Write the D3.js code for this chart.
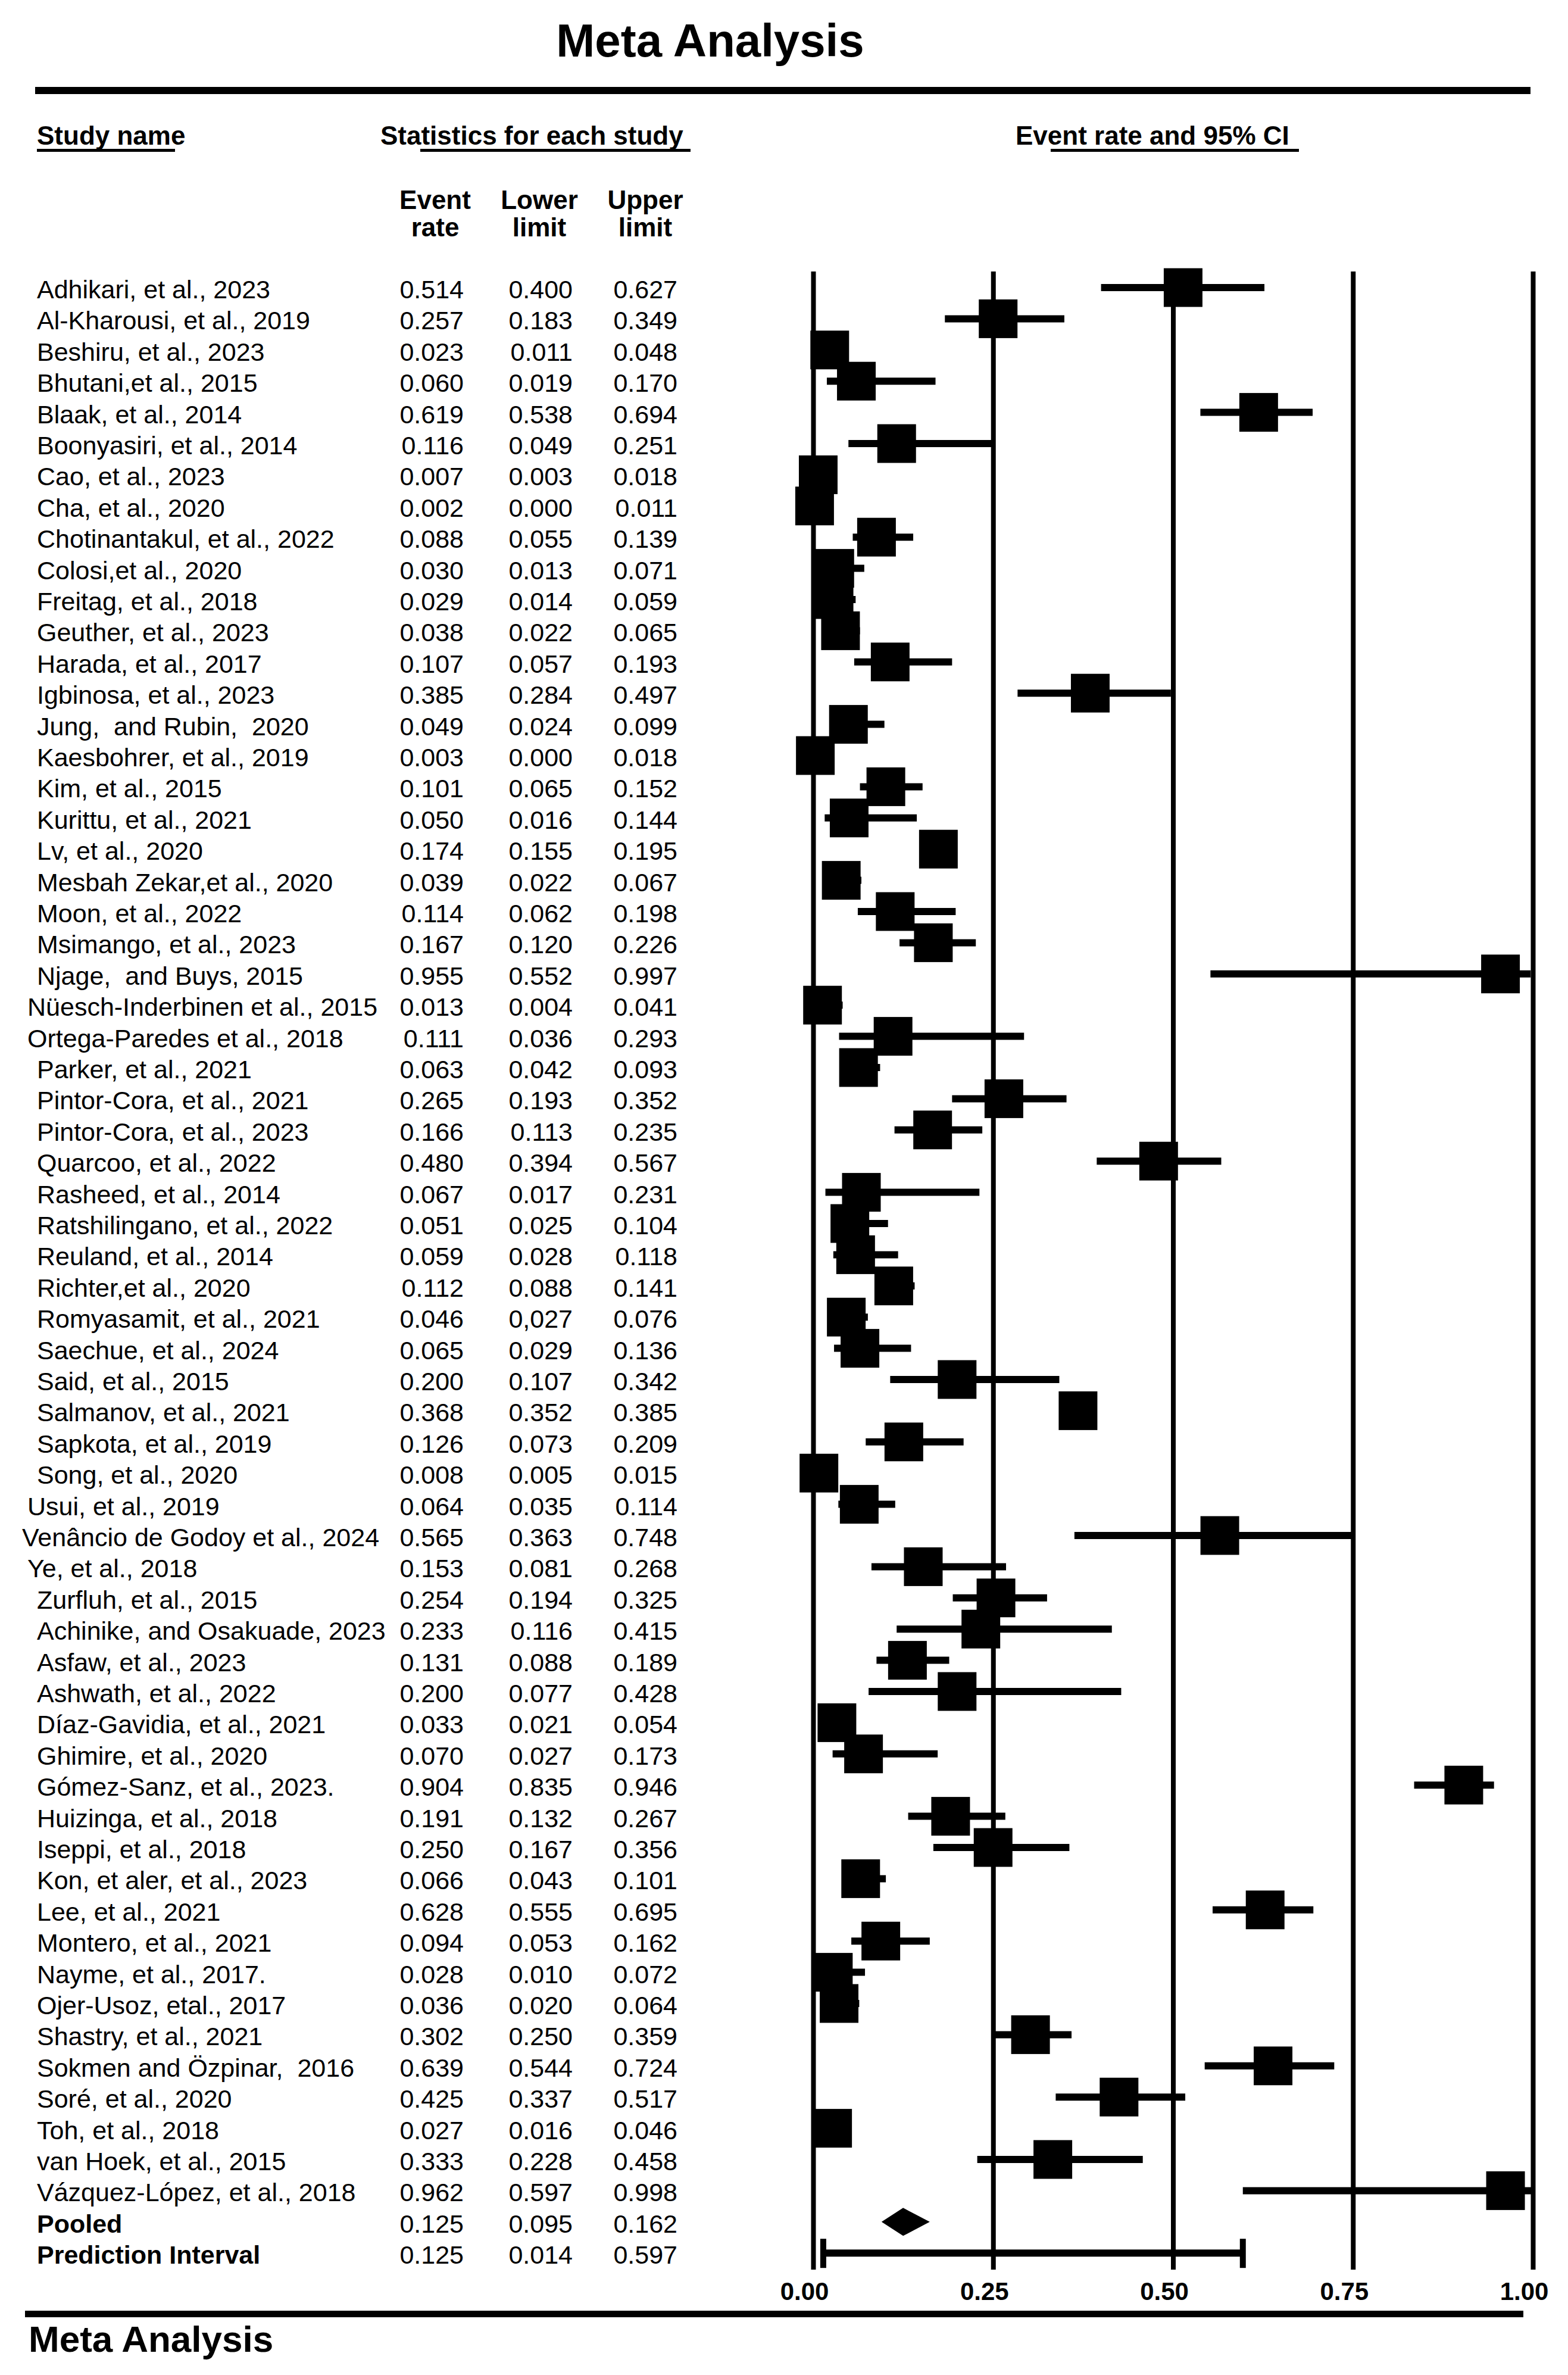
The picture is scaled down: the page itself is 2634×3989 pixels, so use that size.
<!DOCTYPE html>
<html>
<head>
<meta charset="utf-8">
<script src="https://cdn.jsdelivr.net/npm/d3@7"></script>
<style>
html,body{margin:0;padding:0;background:#fff;}
svg{display:block;}
text{font-family:"Liberation Sans",Arial,Helvetica,sans-serif;fill:#000;white-space:pre;}
</style>
</head>
<body>
<svg id="chart" width="2634" height="3989"></svg>
<script>
const studyNames = [
"Adhikari, et al., 2023","Al-Kharousi, et al., 2019","Beshiru, et al., 2023","Bhutani,et al., 2015",
"Blaak, et al., 2014","Boonyasiri, et al., 2014","Cao, et al., 2023","Cha, et al., 2020",
"Chotinantakul, et al., 2022","Colosi,et al., 2020","Freitag, et al., 2018","Geuther, et al., 2023",
"Harada, et al., 2017","Igbinosa, et al., 2023","Jung,  and Rubin,  2020","Kaesbohrer, et al., 2019",
"Kim, et al., 2015","Kurittu, et al., 2021","Lv, et al., 2020","Mesbah Zekar,et al., 2020",
"Moon, et al., 2022","Msimango, et al., 2023","Njage,  and Buys, 2015","Nüesch-Inderbinen et al., 2015",
"Ortega-Paredes et al., 2018","Parker, et al., 2021","Pintor-Cora, et al., 2021","Pintor-Cora, et al., 2023",
"Quarcoo, et al., 2022","Rasheed, et al., 2014","Ratshilingano, et al., 2022","Reuland, et al., 2014",
"Richter,et al., 2020","Romyasamit, et al., 2021","Saechue, et al., 2024","Said, et al., 2015",
"Salmanov, et al., 2021","Sapkota, et al., 2019","Song, et al., 2020","Usui, et al., 2019",
"Venâncio de Godoy et al., 2024","Ye, et al., 2018","Zurfluh, et al., 2015","Achinike, and Osakuade, 2023",
"Asfaw, et al., 2023","Ashwath, et al., 2022","Díaz-Gavidia, et al., 2021","Ghimire, et al., 2020",
"Gómez-Sanz, et al., 2023.","Huizinga, et al., 2018","Iseppi, et al., 2018","Kon, et aler, et al., 2023",
"Lee, et al., 2021","Montero, et al., 2021","Nayme, et al., 2017.","Ojer-Usoz, etal., 2017",
"Shastry, et al., 2021","Sokmen and Özpinar,  2016","Soré, et al., 2020","Toh, et al., 2018",
"van Hoek, et al., 2015","Vázquez-López, et al., 2018"
];
const eventRate = [
0.514,0.257,0.023,0.060,0.619,0.116,0.007,0.002,0.088,0.030,
0.029,0.038,0.107,0.385,0.049,0.003,0.101,0.050,0.174,0.039,
0.114,0.167,0.955,0.013,0.111,0.063,0.265,0.166,0.480,0.067,
0.051,0.059,0.112,0.046,0.065,0.200,0.368,0.126,0.008,0.064,
0.565,0.153,0.254,0.233,0.131,0.200,0.033,0.070,0.904,0.191,
0.250,0.066,0.628,0.094,0.028,0.036,0.302,0.639,0.425,0.027,0.333,0.962
];
const lowerLimit = [
0.400,0.183,0.011,0.019,0.538,0.049,0.003,0.000,0.055,0.013,
0.014,0.022,0.057,0.284,0.024,0.000,0.065,0.016,0.155,0.022,
0.062,0.120,0.552,0.004,0.036,0.042,0.193,0.113,0.394,0.017,
0.025,0.028,0.088,0.027,0.029,0.107,0.352,0.073,0.005,0.035,
0.363,0.081,0.194,0.116,0.088,0.077,0.021,0.027,0.835,0.132,
0.167,0.043,0.555,0.053,0.010,0.020,0.250,0.544,0.337,0.016,0.228,0.597
];
const upperLimit = [
0.627,0.349,0.048,0.170,0.694,0.251,0.018,0.011,0.139,0.071,
0.059,0.065,0.193,0.497,0.099,0.018,0.152,0.144,0.195,0.067,
0.198,0.226,0.997,0.041,0.293,0.093,0.352,0.235,0.567,0.231,
0.104,0.118,0.141,0.076,0.136,0.342,0.385,0.209,0.015,0.114,
0.748,0.268,0.325,0.415,0.189,0.428,0.054,0.173,0.946,0.267,
0.356,0.101,0.695,0.162,0.072,0.064,0.359,0.724,0.517,0.046,0.458,0.998
];
const pooled = [0.125, 0.095, 0.162];
const predictionInterval = [0.125, 0.014, 0.597];
const summaryLabels = ["Pooled", "Prediction Interval"];
const tickValues = [0, 0.25, 0.5, 0.75, 1];
const tickLabels = ["0.00", "0.25", "0.50", "0.75", "1.00"];
// text exactly as printed in the table (one value printed with a comma)
const lowerLabelOverrides = {33: "0,027"};

const svg = d3.select("#chart");
svg.append("rect").attr("width", 2634).attr("height", 3989).attr("fill", "#fff");

const nRows = studyNames.length + 2;
const rowStep = 52.4;
const y = d3.scaleLinear().domain([0, nRows - 1]).range([483, 483 + (nRows - 1) * rowStep]);
const x = d3.scaleLinear().domain([0, 1]).range([1366, 2575]);
const fmt = d3.format(".3f");

// Title and rules
svg.append("text").attr("x", 1193).attr("y", 95).attr("text-anchor", "middle")
  .attr("font-size", 78).attr("font-weight", "bold").text("Meta Analysis");
svg.append("rect").attr("x", 59).attr("y", 146).attr("width", 2512).attr("height", 12).attr("fill", "#000");
svg.append("rect").attr("x", 42).attr("y", 3881).attr("width", 2517).attr("height", 11).attr("fill", "#000");
svg.append("text").attr("x", 48).attr("y", 3950).attr("font-size", 62).attr("font-weight", "bold").text("Meta Analysis");

// Column headers
const hdr = svg.append("g").attr("font-size", 44).attr("font-weight", "bold");
hdr.append("text").attr("x", 62).attr("y", 243).text("Study name");
hdr.append("text").attr("x", 639).attr("y", 243).text("Statistics for each study");
hdr.append("text").attr("x", 1706).attr("y", 243).text("Event rate and 95% CI");
[[62, 294], [706, 1160], [1765, 2182]].forEach(([a, b]) => {
  hdr.append("rect").attr("x", a).attr("y", 250).attr("width", b - a).attr("height", 5).attr("fill", "#000");
});
const subHeads = [["Event", "rate", 731], ["Lower", "limit", 906], ["Upper", "limit", 1084]];
subHeads.forEach(([l1, l2, cx]) => {
  hdr.append("text").attr("x", cx).attr("y", 351).attr("text-anchor", "middle").text(l1);
  hdr.append("text").attr("x", cx).attr("y", 397).attr("text-anchor", "middle").text(l2);
});

// Axis with gridlines
const gridTop = 456, gridBottom = 3812;
const axis = d3.axisBottom(x).tickValues(tickValues)
  .tickFormat((d, i) => tickLabels[i]).tickSize(-(gridBottom - gridTop)).tickPadding(21);
const ag = svg.append("g").attr("transform", `translate(0,${gridBottom})`).call(axis);
ag.select(".domain").remove();
ag.selectAll(".tick line").attr("stroke", "#000").attr("stroke-width", 8);
ag.selectAll(".tick text").attr("font-size", 42).attr("font-weight", "bold")
  .attr("font-family", "Liberation Sans, Arial, sans-serif").attr("fill", "#000").attr("dx", -15);

// Study rows: table text
const rows = studyNames.map((n, i) => ({name: n, r: eventRate[i], lo: lowerLimit[i], hi: upperLimit[i], i}));
const outdent = {23: 46, 24: 46, 39: 46, 40: 37, 41: 46};
const tg = svg.append("g").attr("font-size", 43);
rows.forEach(d => {
  const by = y(d.i) + 18;
  tg.append("text").attr("x", outdent[d.i] !== undefined ? outdent[d.i] : 62).attr("y", by).text(d.name);
  tg.append("text").attr("x", 779).attr("y", by).attr("text-anchor", "end").text(fmt(d.r));
  tg.append("text").attr("x", 962).attr("y", by).attr("text-anchor", "end")
    .text(lowerLabelOverrides[d.i] || fmt(d.lo));
  tg.append("text").attr("x", 1138).attr("y", by).attr("text-anchor", "end").text(fmt(d.hi));
});
[pooled, predictionInterval].forEach((s, k) => {
  const by = y(studyNames.length + k) + 18;
  tg.append("text").attr("x", 62).attr("y", by).attr("font-weight", "bold").text(summaryLabels[k]);
  tg.append("text").attr("x", 779).attr("y", by).attr("text-anchor", "end").text(fmt(s[0]));
  tg.append("text").attr("x", 962).attr("y", by).attr("text-anchor", "end").text(fmt(s[1]));
  tg.append("text").attr("x", 1138).attr("y", by).attr("text-anchor", "end").text(fmt(s[2]));
});

// Forest marks
const mg = svg.append("g");
mg.selectAll("line.ci").data(rows).join("line").attr("class", "ci")
  .attr("x1", d => x(d.lo)).attr("x2", d => x(d.hi))
  .attr("y1", d => y(d.i)).attr("y2", d => y(d.i))
  .attr("stroke", "#000").attr("stroke-width", 12);
const sq = 65;
mg.selectAll("rect.pt").data(rows).join("rect").attr("class", "pt")
  .attr("x", d => x(d.r) - sq / 2).attr("y", d => y(d.i) - sq / 2)
  .attr("width", sq).attr("height", sq).attr("fill", "#000");

// Pooled diamond
const py = y(studyNames.length);
mg.append("path").attr("fill", "#000").attr("d",
  `M${x(pooled[1])},${py}L${x(pooled[0])},${py - 23.5}L${x(pooled[2])},${py}L${x(pooled[0])},${py + 23.5}Z`);

// Prediction interval
const piy = y(studyNames.length + 1);
mg.append("line").attr("x1", x(predictionInterval[1])).attr("x2", x(predictionInterval[2]))
  .attr("y1", piy).attr("y2", piy).attr("stroke", "#000").attr("stroke-width", 12);
[predictionInterval[1], predictionInterval[2]].forEach(v => {
  mg.append("line").attr("x1", x(v)).attr("x2", x(v)).attr("y1", piy - 24).attr("y2", piy + 25)
    .attr("stroke", "#000").attr("stroke-width", 10);
});
</script>
</body>
</html>
